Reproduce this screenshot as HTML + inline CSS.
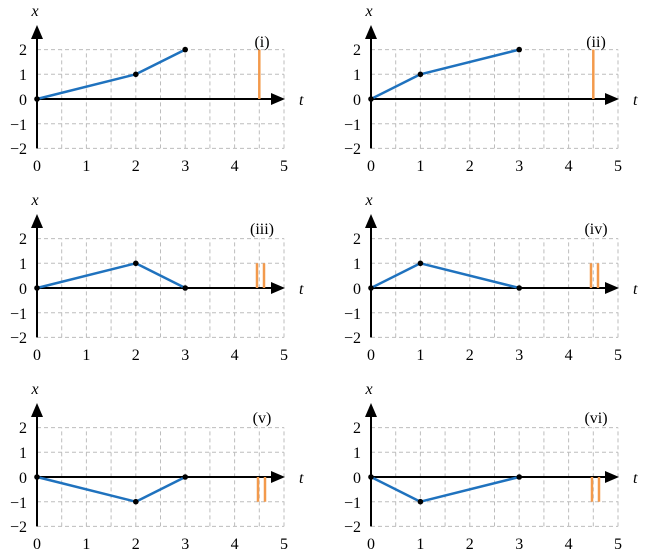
<!DOCTYPE html>
<html><head><meta charset="utf-8"><style>body{margin:0;background:#fff}svg{display:block}text{font-family:"Liberation Serif","Times New Roman",serif;font-size:16px;fill:#000}</style></head>
<body>
<svg width="646" height="556" viewBox="0 0 646 556" xmlns="http://www.w3.org/2000/svg">
<defs>
<g id="grid">
  <g stroke="#bdbdbd" stroke-width="1" stroke-dasharray="4,3" fill="none">
    <path d="M24.7 49.4V-49.4M49.4 49.4V-49.4M74.1 49.4V-49.4M98.8 49.4V-49.4M123.5 49.4V-49.4M148.2 49.4V-49.4M172.9 49.4V-49.4M197.6 49.4V-49.4M222.3 49.4V-49.4M247 49.4V-49.4"/>
    <path d="M0 -49.4H247M0 -24.7H247M0 24.7H247M0 49.4H247"/>
  </g>
  <path d="M0 49.4V-62" stroke="#000" stroke-width="2"/>
  <path d="M-6 -60L0 -74L6 -60Z" fill="#000"/>
  <path d="M0 0H236" stroke="#000" stroke-width="2"/>
  <path d="M234 -6L248 0L234 6Z" fill="#000"/>
  <text x="-2" y="-83" font-style="italic" text-anchor="middle">x</text>
  <text x="262" y="6" font-style="italic">t</text>
  <g text-anchor="end">
    <text x="-10" y="-44">2</text><text x="-10" y="-19">1</text><text x="-10" y="6">0</text><text x="-10" y="31">−1</text><text x="-10" y="55">−2</text>
  </g>
  <g text-anchor="middle">
    <text x="0" y="72">0</text><text x="49.4" y="72">1</text><text x="98.8" y="72">2</text><text x="148.2" y="72">3</text><text x="197.6" y="72">4</text><text x="247" y="72">5</text>
  </g>
</g>
</defs>
<g fill="none" stroke-linejoin="round">
<g transform="translate(37,99)">
  <use href="#grid"/>
  <path d="M222.3 0V-49.4" stroke="#f39a4c" stroke-width="2.5"/>
  <text x="225" y="-52" text-anchor="middle">(i)</text>
  <path d="M0 0L98.8 -24.7L148.2 -49.4" stroke="#1f72be" stroke-width="2.5"/>
  <g fill="#000"><circle cx="0" cy="0" r="2.8"/><circle cx="98.8" cy="-24.7" r="2.8"/><circle cx="148.2" cy="-49.4" r="2.8"/></g>
</g>
<g transform="translate(371,99)">
  <use href="#grid"/>
  <path d="M222.3 0V-49.4" stroke="#f39a4c" stroke-width="2.5"/>
  <text x="225" y="-52" text-anchor="middle">(ii)</text>
  <path d="M0 0L49.4 -24.7L148.2 -49.4" stroke="#1f72be" stroke-width="2.5"/>
  <g fill="#000"><circle cx="0" cy="0" r="2.8"/><circle cx="49.4" cy="-24.7" r="2.8"/><circle cx="148.2" cy="-49.4" r="2.8"/></g>
</g>
<g transform="translate(37,288)">
  <use href="#grid"/>
  <path d="M220 0V-24.7M227 0V-24.7" stroke="#f39a4c" stroke-width="2.5"/>
  <text x="225" y="-54" text-anchor="middle">(iii)</text>
  <path d="M0 0L98.8 -24.7L148.2 0" stroke="#1f72be" stroke-width="2.5"/>
  <g fill="#000"><circle cx="0" cy="0" r="2.8"/><circle cx="98.8" cy="-24.7" r="2.8"/><circle cx="148.2" cy="0" r="2.8"/></g>
</g>
<g transform="translate(371,288)">
  <use href="#grid"/>
  <path d="M220 0V-24.7M227 0V-24.7" stroke="#f39a4c" stroke-width="2.5"/>
  <text x="225" y="-54" text-anchor="middle">(iv)</text>
  <path d="M0 0L49.4 -24.7L148.2 0" stroke="#1f72be" stroke-width="2.5"/>
  <g fill="#000"><circle cx="0" cy="0" r="2.8"/><circle cx="49.4" cy="-24.7" r="2.8"/><circle cx="148.2" cy="0" r="2.8"/></g>
</g>
<g transform="translate(37,477)">
  <use href="#grid"/>
  <path d="M221 0V24.7M228 0V24.7" stroke="#f39a4c" stroke-width="2.5"/>
  <text x="225" y="-54" text-anchor="middle">(v)</text>
  <path d="M0 0L98.8 24.7L148.2 0" stroke="#1f72be" stroke-width="2.5"/>
  <g fill="#000"><circle cx="0" cy="0" r="2.8"/><circle cx="98.8" cy="24.7" r="2.8"/><circle cx="148.2" cy="0" r="2.8"/></g>
</g>
<g transform="translate(371,477)">
  <use href="#grid"/>
  <path d="M221 0V24.7M228 0V24.7" stroke="#f39a4c" stroke-width="2.5"/>
  <text x="225" y="-54" text-anchor="middle">(vi)</text>
  <path d="M0 0L49.4 24.7L148.2 0" stroke="#1f72be" stroke-width="2.5"/>
  <g fill="#000"><circle cx="0" cy="0" r="2.8"/><circle cx="49.4" cy="24.7" r="2.8"/><circle cx="148.2" cy="0" r="2.8"/></g>
</g>
</g>
</svg>
</body></html>
